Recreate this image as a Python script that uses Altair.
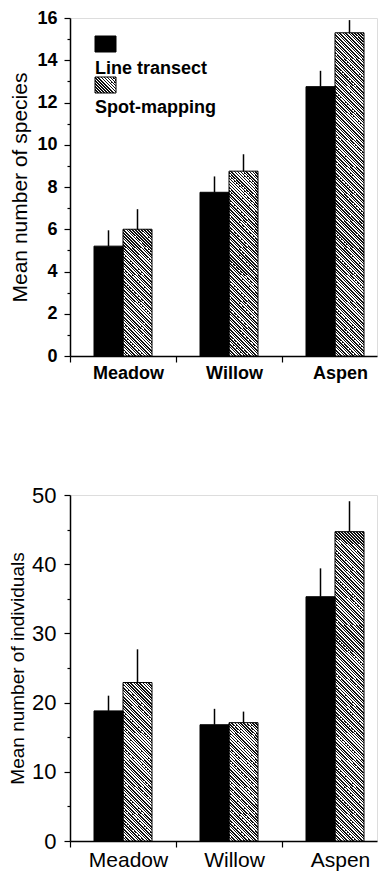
import math
import pandas as pd
import altair as alt

# ---------------- data ----------------
habitats = ["Meadow", "Willow", "Aspen"]
methods = ["Line transect", "Spot-mapping"]

species_line = [5.2, 7.75, 12.75]
species_line_upper = [5.95, 8.5, 13.5]
species_spot = [6.0, 8.75, 15.3]
species_spot_upper = [6.95, 9.55, 15.9]

indiv_line = [18.8, 16.8, 35.3]
indiv_line_upper = [21.0, 19.1, 39.4]
indiv_spot = [22.9, 17.1, 44.7]
indiv_spot_upper = [27.7, 18.7, 49.1]

FONT = "Liberation Sans"

# ---------------- layout ----------------
W = 307           # plot width
H1 = 338          # top plot height
H2 = 346          # bottom plot height
SPACING = 100
YMAX1 = 16
YMAX2 = 50
STEP = 106.0      # distance between habitat groups
PAIR = 58.0       # width of a pair of bars
LEFT_OUT = 24.0   # gap between y axis and first pair
P_IN = 1 - PAIR / STEP
OUTER = W - (STEP * 2 + PAIR)
P_OUT = OUTER / (2 * STEP)
ALIGN = LEFT_OUT / OUTER
BAR_W = PAIR / 2
GAP = STEP - PAIR
HPERIOD = 3.0     # horizontal period of the hatching (px)
SEG_PX = 27.0     # hatching drawn in slices of this height (multiple of HPERIOD)


def hatch(w, h, hperiod=HPERIOD, frac=0.5, dark="#111111", light="#ffffff"):
    """Diagonal (\\) hatching as a linear gradient with hard stops."""
    h = max(h, 0.5)
    r = h / w
    a = (1 + r) / (1 + r * r)
    length = (w + h) / math.sqrt(2)
    n = length / (hperiod / math.sqrt(2))
    stops = []
    k = 0
    while k / n < 1:
        t0 = min(k / n, 1)
        t1 = min((k + frac) / n, 1)
        t2 = min((k + 1) / n, 1)
        stops += [
            {"offset": round(t0, 6), "color": dark},
            {"offset": round(t1, 6), "color": dark},
            {"offset": round(t1, 6), "color": light},
            {"offset": round(t2, 6), "color": light},
        ]
        k += 1
    return {"gradient": "linear", "x1": 0, "y1": 1, "x2": a, "y2": 1 - a * r,
            "stops": stops}


def build(line, line_up, spot, spot_up):
    rows = []
    for i, hab in enumerate(habitats):
        rows.append({"habitat": hab, "method": methods[0], "value": line[i], "upper": line_up[i]})
        rows.append({"habitat": hab, "method": methods[1], "value": spot[i], "upper": spot_up[i]})
    return pd.DataFrame(rows)


def slices(df, H, ymax):
    """Fill pieces: solid black bars, hatched bars cut in slices (gradient detail)."""
    px = H / ymax
    seg = SEG_PX / px
    one = 1.0 / px
    rows = []
    for rec in df.to_dict("records"):
        if rec["method"] == methods[0]:
            rows.append({"habitat": rec["habitat"], "method": rec["method"],
                         "lo": 0.0, "hi": rec["value"], "paint": "#000000"})
            continue
        k = 0
        while k * seg < rec["value"] - 1e-9:
            lo = k * seg
            hi = min((k + 1) * seg + one, rec["value"])
            rows.append({"habitat": rec["habitat"], "method": rec["method"],
                         "lo": lo, "hi": hi,
                         "paint": hatch(BAR_W, (hi - lo) * px)})
            k += 1
    return pd.DataFrame(rows)


def panel(df, H, ymax, title, major, minor_step, lab_fs, lab_w, xlab_fs,
          title_fs, lab_pad, title_pad):
    vals = [v * minor_step for v in range(int(ymax / minor_step) + 1)]
    xscale = alt.Scale(paddingInner=P_IN, paddingOuter=P_OUT, align=ALIGN)
    yscale = alt.Scale(domain=[0, ymax], nice=False)
    xaxis = alt.Axis(bandPosition=0, tickOffset=-GAP / 2, labelOffset=PAIR / 2,
                     labelAngle=0, labelFontSize=xlab_fs,
                     labelFontWeight=lab_w, labelColor="black", labelFont=FONT,
                     domainColor="black", domainWidth=1.3, tickColor="black",
                     tickWidth=1.2, tickSize=6, labelPadding=2, grid=False)
    yaxis = alt.Axis(values=vals,
                     labelExpr=f"datum.value % {major} == 0 ? datum.label : ''",
                     tickSize={"condition": {"test": f"datum.value % {major} != 0",
                                             "value": 3}, "value": 6},
                     labelFontSize=lab_fs, labelFontWeight=lab_w,
                     labelColor="black", labelFont=FONT,
                     titleFontSize=title_fs, titleFontWeight="normal",
                     titleColor="black", titleFont=FONT, titlePadding=title_pad,
                     labelPadding=lab_pad, domainColor="black", domainWidth=1.5,
                     tickColor="black", tickWidth=1.2, grid=False)
    xoff = alt.XOffset("method:N", sort=methods,
                       scale=alt.Scale(paddingInner=0, paddingOuter=0))
    x = alt.X("habitat:N", sort=habitats, title=None, scale=xscale, axis=xaxis)

    fills = alt.Chart(slices(df, H, ymax)).mark_bar(strokeWidth=0).encode(
        x=x, xOffset=xoff,
        y=alt.Y("lo:Q", scale=yscale, title=title, axis=yaxis),
        y2="hi:Q",
        fill=alt.Fill("paint:N", scale=None))
    outline = alt.Chart(df).mark_bar(fillOpacity=0, stroke="black", strokeWidth=1).encode(
        x=x, xOffset=xoff,
        y=alt.Y("value:Q", scale=yscale, title=title, axis=yaxis))
    errs = alt.Chart(df).mark_rule(color="black", strokeWidth=1.5, xOffset=1).encode(
        x=x, xOffset=xoff,
        y=alt.Y("value:Q", scale=yscale, title=title, axis=yaxis), y2="upper:Q")
    return [fills, outline, errs]


top_df = build(species_line, species_line_upper, species_spot, species_spot_upper)
bot_df = build(indiv_line, indiv_line_upper, indiv_spot, indiv_spot_upper)

top_layers = panel(top_df, H1, YMAX1, "Mean number of species", 2, 1, 18, "bold", 18, 21, 7, 6)
bot_layers = panel(bot_df, H2, YMAX2, "Mean number of individuals", 10, 5, 22, "normal", 21, 19, 8, 4)

# legend (top panel)
leg_black = alt.Chart(pd.DataFrame({"m": [methods[0]]})).mark_rect(
    fill="black", stroke="black").encode(
    x=alt.value(25), x2=alt.value(46), y=alt.value(18), y2=alt.value(34))
leg_hatch = alt.Chart(pd.DataFrame({"m": [methods[1]]})).mark_rect(
    fill=hatch(21, 16), stroke="black", strokeWidth=1).encode(
    x=alt.value(25), x2=alt.value(46), y=alt.value(59), y2=alt.value(75))
leg_t1 = alt.Chart(pd.DataFrame({"m": [methods[0]]})).mark_text(
    align="left", baseline="alphabetic", fontSize=18, fontWeight="bold",
    font=FONT, color="black").encode(
    x=alt.value(25), y=alt.value(56), text="m:N")
leg_t2 = alt.Chart(pd.DataFrame({"m": [methods[1]]})).mark_text(
    align="left", baseline="alphabetic", fontSize=18, fontWeight="bold",
    font=FONT, color="black").encode(
    x=alt.value(25), y=alt.value(95), text="m:N")

top = alt.layer(*top_layers, leg_black, leg_hatch, leg_t1, leg_t2).properties(width=W, height=H1)
bottom = alt.layer(*bot_layers).properties(width=W, height=H2)

chart = alt.vconcat(top, bottom, spacing=SPACING).properties(
    padding={"left": 0, "top": 0, "right": 0, "bottom": 0},
    background="white",
).configure_view(stroke=None).configure(font=FONT)

chart.save("out.html", embed_options={"renderer": "svg", "actions": False})
